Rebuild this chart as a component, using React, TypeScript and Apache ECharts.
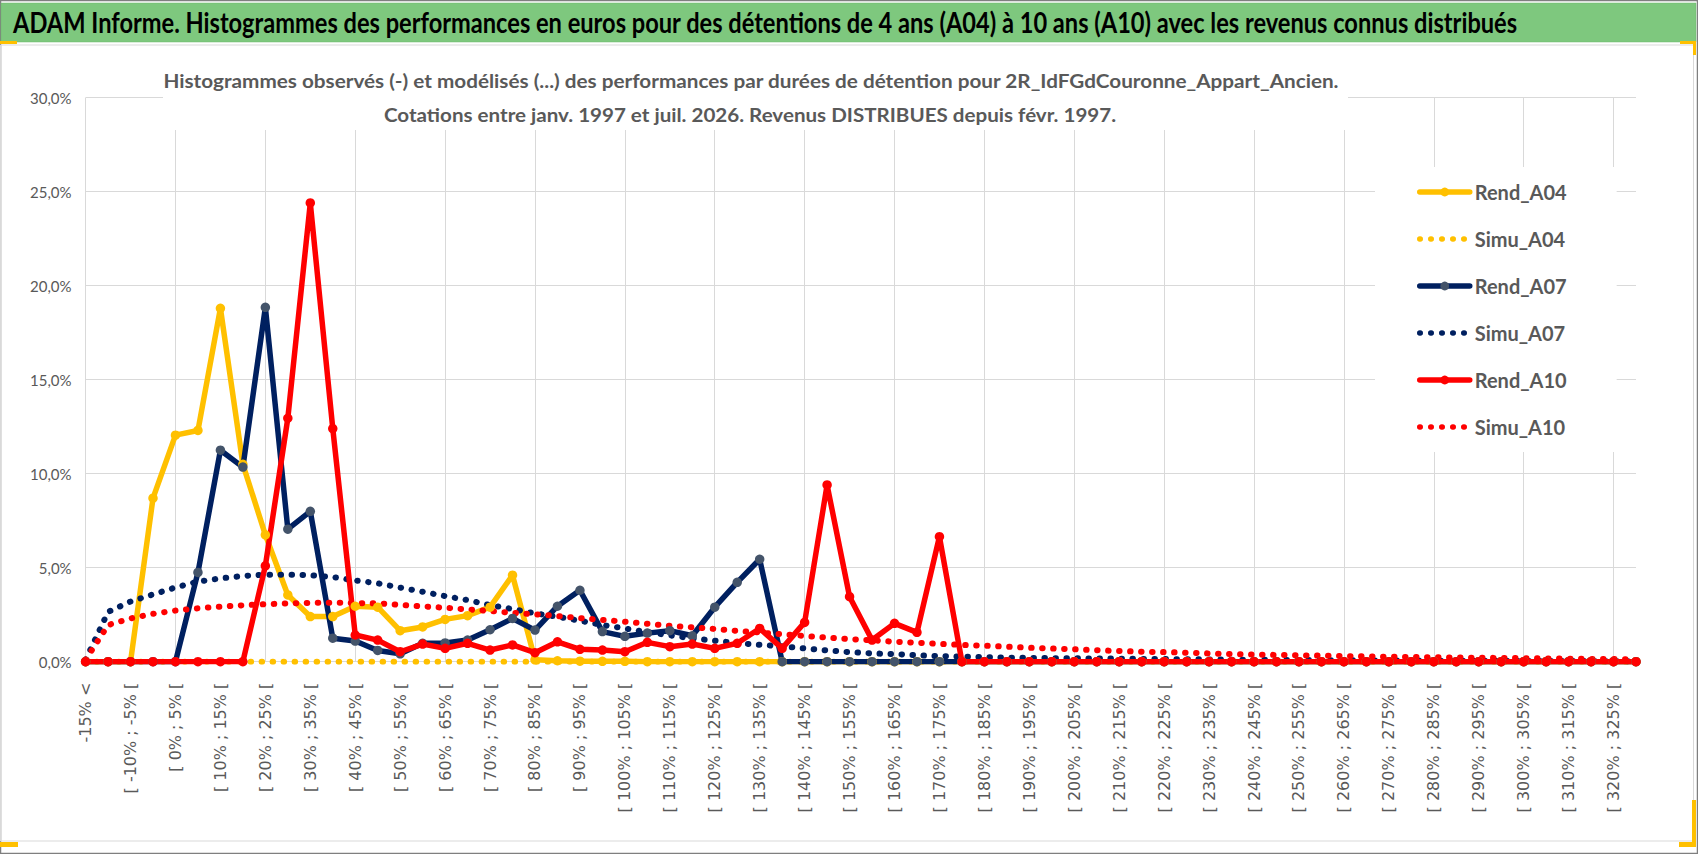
import React, { useEffect, useRef } from "react";
import * as echarts from "echarts";

const W = 1698;
const H = 854;

const TITLE =
  "ADAM Informe. Histogrammes des performances en euros pour des détentions de 4 ans (A04) à 10 ans (A10) avec les revenus connus distribués";
const SUB1 =
  "Histogrammes observés (-) et modélisés (...) des performances par durées de détention pour 2R_IdFGdCouronne_Appart_Ancien.";
const SUB2 = "Cotations entre janv. 1997 et juil. 2026. Revenus DISTRIBUES depuis févr. 1997.";

const categories = [
  "-15% <", "[ -15% ; -10% [", "[ -10% ; -5% [", "[ -5% ; 0% [", "[ 0% ; 5% [",
  "[ 5% ; 10% [", "[ 10% ; 15% [", "[ 15% ; 20% [", "[ 20% ; 25% [", "[ 25% ; 30% [",
  "[ 30% ; 35% [", "[ 35% ; 40% [", "[ 40% ; 45% [", "[ 45% ; 50% [", "[ 50% ; 55% [",
  "[ 55% ; 60% [", "[ 60% ; 65% [", "[ 65% ; 70% [", "[ 70% ; 75% [", "[ 75% ; 80% [",
  "[ 80% ; 85% [", "[ 85% ; 90% [", "[ 90% ; 95% [", "[ 95% ; 100% [", "[ 100% ; 105% [",
  "[ 105% ; 110% [", "[ 110% ; 115% [", "[ 115% ; 120% [", "[ 120% ; 125% [", "[ 125% ; 130% [",
  "[ 130% ; 135% [", "[ 135% ; 140% [", "[ 140% ; 145% [", "[ 145% ; 150% [", "[ 150% ; 155% [",
  "[ 155% ; 160% [", "[ 160% ; 165% [", "[ 165% ; 170% [", "[ 170% ; 175% [", "[ 175% ; 180% [",
  "[ 180% ; 185% [", "[ 185% ; 190% [", "[ 190% ; 195% [", "[ 195% ; 200% [", "[ 200% ; 205% [",
  "[ 205% ; 210% [", "[ 210% ; 215% [", "[ 215% ; 220% [", "[ 220% ; 225% [", "[ 225% ; 230% [",
  "[ 230% ; 235% [", "[ 235% ; 240% [", "[ 240% ; 245% [", "[ 245% ; 250% [", "[ 250% ; 255% [",
  "[ 255% ; 260% [", "[ 260% ; 265% [", "[ 265% ; 270% [", "[ 270% ; 275% [", "[ 275% ; 280% [",
  "[ 280% ; 285% [", "[ 285% ; 290% [", "[ 290% ; 295% [", "[ 295% ; 300% [", "[ 300% ; 305% [",
  "[ 305% ; 310% [", "[ 310% ; 315% [", "[ 315% ; 320% [", "[ 320% ; 325% [", "[ 325% ; 330% [",
];

const rendA04 = [
  0, 0, 0, 8.7, 12.05, 12.3, 18.8, 10.5, 6.75, 3.55,
  2.4, 2.4, 2.95, 2.9, 1.65, 1.85, 2.25, 2.45, 2.9, 4.6,
  0.1, 0.05, 0.03, 0.02, 0.02, 0, 0, 0, 0, 0,
  0, 0, 0, 0, 0, 0, 0, 0, 0, 0,
  0, 0, 0, 0, 0, 0, 0, 0, 0, 0,
  0, 0, 0, 0, 0, 0, 0, 0, 0, 0,
  0, 0, 0, 0, 0, 0, 0, 0, 0, 0,
];

const simuA04 = [
  0, 0, 0, 0, 0, 0, 0, 0, 0, 0,
  0, 0, 0, 0, 0, 0, 0, 0, 0, 0,
  0, 0, 0, 0, 0, 0, 0, 0, 0, 0,
  0, 0, 0, 0, 0, 0, 0, 0, 0, 0,
  0, 0, 0, 0, 0, 0, 0, 0, 0, 0,
  0, 0, 0, 0, 0, 0, 0, 0, 0, 0,
  0, 0, 0, 0, 0, 0, 0, 0, 0, 0,
];

const rendA07 = [
  0, 0, 0, 0, 0, 4.75, 11.25, 10.35, 18.85, 7.05,
  8.0, 1.25, 1.1, 0.6, 0.42, 0.98, 1.0, 1.15, 1.7, 2.3,
  1.68, 2.95, 3.8, 1.6, 1.35, 1.52, 1.65, 1.38, 2.9, 4.22,
  5.45, 0, 0, 0, 0, 0, 0, 0, 0, 0,
  0, 0, 0, 0, 0, 0, 0, 0, 0, 0,
  0, 0, 0, 0, 0, 0, 0, 0, 0, 0,
  0, 0, 0, 0, 0, 0, 0, 0, 0, 0,
];

const simuA07 = [
  0.1, 2.65, 3.2, 3.58, 3.95, 4.26, 4.43, 4.56, 4.63, 4.63,
  4.6, 4.5, 4.32, 4.17, 3.94, 3.72, 3.49, 3.28, 3.01, 2.8,
  2.57, 2.39, 2.18, 1.95, 1.77, 1.57, 1.4, 1.24, 1.12, 0.99,
  0.9, 0.82, 0.71, 0.6, 0.51, 0.44, 0.41, 0.34, 0.3, 0.27,
  0.25, 0.22, 0.2, 0.19, 0.18, 0.17, 0.16, 0.15, 0.14, 0.13,
  0.12, 0.11, 0.1, 0.1, 0.09, 0.08, 0.08, 0.07, 0.07, 0.06,
  0.06, 0.05, 0.05, 0.05, 0.04, 0.04, 0.04, 0.03, 0.03, 0.03,
];

const rendA10 = [
  0, 0, 0, 0, 0, 0, 0, 0, 5.1, 12.95,
  24.4, 12.4, 1.42, 1.15, 0.53, 0.94, 0.71, 0.98, 0.62, 0.89,
  0.48, 1.06, 0.66, 0.62, 0.53, 1.03, 0.8, 0.94, 0.71, 0.98,
  1.77, 0.71, 2.09, 9.4, 3.46, 1.15, 2.04, 1.56, 6.65, 0,
  0, 0, 0, 0, 0, 0, 0, 0, 0, 0,
  0, 0, 0, 0, 0, 0, 0, 0, 0, 0,
  0, 0, 0, 0, 0, 0, 0, 0, 0, 0,
];

const simuA10 = [
  0.1, 1.95, 2.3, 2.55, 2.72, 2.84, 2.93, 3.0, 3.06, 3.1,
  3.13, 3.14, 3.12, 3.1, 3.02, 2.94, 2.87, 2.78, 2.7, 2.6,
  2.52, 2.43, 2.32, 2.22, 2.13, 2.02, 1.91, 1.83, 1.74, 1.64,
  1.55, 1.46, 1.37, 1.28, 1.2, 1.14, 1.06, 1.01, 0.95, 0.89,
  0.85, 0.8, 0.74, 0.7, 0.66, 0.61, 0.57, 0.53, 0.51, 0.48,
  0.44, 0.41, 0.38, 0.36, 0.34, 0.32, 0.3, 0.28, 0.26, 0.25,
  0.24, 0.22, 0.21, 0.2, 0.19, 0.17, 0.16, 0.15, 0.14, 0.13,
];

const YELLOW = "#FFC000";
const NAVY = "#002060";
const NAVY_MARK = "#44546A";
const RED = "#FF0000";
const GREY_TXT = "#595959";
const GRID = "#D9D9D9";

function fitScale(text: string, font: string, target: number) {
  const ctx = document.createElement("canvas").getContext("2d");
  if (!ctx) return 1;
  ctx.font = font;
  const w = ctx.measureText(text).width;
  return w > 0 ? target / w : 1;
}

function solid(name: string, data: number[], color: string, mark: string) {
  return {
    name,
    type: "line",
    data,
    symbol: "circle",
    symbolSize: 9.5,
    showAllSymbol: true,
    lineStyle: { color, width: 5.5, cap: "round", join: "round" },
    itemStyle: { color: mark, borderWidth: 0 },
    emphasis: { disabled: true },
  };
}

function dotted(name: string, data: number[], color: string) {
  return {
    name,
    type: "line",
    data,
    symbol: "none",
    showSymbol: false,
    lineStyle: { color, width: 6, type: [0.5, 10.5], cap: "round" },
    itemStyle: { color: "rgba(0,0,0,0)" },
    emphasis: { disabled: true },
  };
}

export default function App() {
  const ref = useRef<HTMLDivElement>(null);

  useEffect(() => {
    document.body.style.margin = "0";
    if (!ref.current) return;
    const chart = echarts.init(ref.current, undefined, { renderer: "svg", width: W, height: H });

    const titleFont = "bold 29px Lato";
    const subFont = "bold 19px Lato";
    const sTitle = fitScale(TITLE, titleFont, 1505);
    const sSub1 = fitScale(SUB1, subFont, 1177);
    const sSub2 = fitScale(SUB2, subFont, 733);

    const option: any = {
      animation: false,
      backgroundColor: "#ffffff",
      textStyle: { fontFamily: "Lato" },
      grid: { left: 85.6, right: 62, top: 97.7, bottom: 192.3, containLabel: false },
      xAxis: {
        type: "category",
        data: categories,
        boundaryGap: false,
        axisLine: { show: true, lineStyle: { color: GRID, width: 1 } },
        axisTick: { show: false },
        axisLabel: {
          interval: 1,
          rotate: 90,
          margin: 21,
          color: GREY_TXT,
          fontFamily: "DejaVu Sans",
          fontSize: 16,
        },
        splitLine: { show: true, interval: 3, lineStyle: { color: GRID, width: 1 } },
      },
      yAxis: {
        type: "value",
        min: 0,
        max: 30,
        interval: 5,
        axisLine: { show: false },
        axisTick: { show: false },
        axisLabel: {
          margin: 14,
          color: GREY_TXT,
          fontFamily: "Lato",
          fontSize: 15,
          formatter: (v: number) => v.toFixed(1).replace(".", ",") + "%",
        },
        splitLine: { show: true, lineStyle: { color: GRID, width: 1 } },
      },
      legend: {
        orient: "vertical",
        left: 1375,
        top: 167,
        padding: [15, 50, 15, 42],
        backgroundColor: "#ffffff",
        itemWidth: 50,
        itemHeight: 11,
        itemGap: 27,
        selectedMode: false,
        lineStyle: { width: 5.5 },
        textStyle: { fontFamily: "Lato", fontWeight: "bold", fontSize: 20, color: GREY_TXT },
        data: ["Rend_A04", "Simu_A04", "Rend_A07", "Simu_A07", "Rend_A10", "Simu_A10"],
      },
      graphic: [
        { type: "rect", z: 0, shape: { x: 0.5, y: 0.5, width: W - 1, height: H - 1 }, style: { fill: "none", stroke: "#7f7f7f", lineWidth: 1.5 } },
        { type: "rect", z: 1, shape: { x: 1, y: 3, width: W - 3, height: 39 }, style: { fill: "#7EC87E", stroke: "#6fb86f", lineWidth: 0.5 } },
        { type: "rect", z: 1, shape: { x: 0.5, y: 45, width: 1693, height: 796 }, style: { fill: "none", stroke: GRID, lineWidth: 1 } },
        {
          type: "text", z: 3, x: 13, y: 22.5, scaleX: sTitle,
          style: { text: TITLE, font: titleFont, fill: "#000000", align: "left", verticalAlign: "middle" },
        },
        { type: "rect", z: 1, shape: { x: 163, y: 60, width: 1185, height: 70 }, style: { fill: "#ffffff" } },
        {
          type: "text", z: 3, x: 751, y: 80, scaleX: sSub1,
          style: { text: SUB1, font: subFont, fill: GREY_TXT, align: "center", verticalAlign: "middle" },
        },
        {
          type: "text", z: 3, x: 750, y: 114, scaleX: sSub2,
          style: { text: SUB2, font: subFont, fill: GREY_TXT, align: "center", verticalAlign: "middle" },
        },
        { type: "rect", z: 5, shape: { x: 0, y: 41, width: 17, height: 3 }, style: { fill: YELLOW } },
        { type: "rect", z: 5, shape: { x: 1680, y: 41, width: 16, height: 3 }, style: { fill: YELLOW } },
        { type: "rect", z: 5, shape: { x: 1693, y: 41, width: 3, height: 14 }, style: { fill: YELLOW } },
        { type: "rect", z: 5, shape: { x: 0, y: 842, width: 18, height: 5 }, style: { fill: YELLOW } },
        { type: "rect", z: 5, shape: { x: 1679, y: 842, width: 17, height: 5 }, style: { fill: YELLOW } },
        { type: "rect", z: 5, shape: { x: 1692, y: 800, width: 4, height: 47 }, style: { fill: YELLOW } },
      ],
      series: [
        solid("Rend_A04", rendA04, YELLOW, YELLOW),
        dotted("Simu_A04", simuA04, YELLOW),
        solid("Rend_A07", rendA07, NAVY, NAVY_MARK),
        dotted("Simu_A07", simuA07, NAVY),
        solid("Rend_A10", rendA10, RED, RED),
        dotted("Simu_A10", simuA10, RED),
      ],
    };

    chart.setOption(option);
    return () => chart.dispose();
  }, []);

  return <div ref={ref} style={{ width: W, height: H }} />;
}
